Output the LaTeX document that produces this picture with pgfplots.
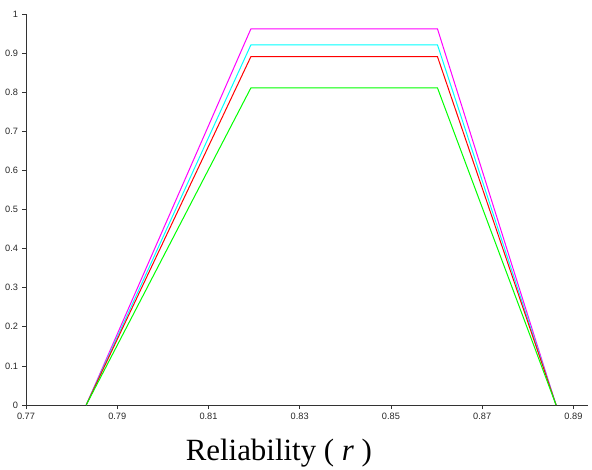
\documentclass[border=0pt]{standalone}
\usepackage{fontspec}
\setmainfont{Liberation Serif}
\newfontfamily\ticksans{Liberation Sans}
\usepackage{pgfplots}
\pgfplotsset{compat=1.18}
\definecolor{cMag}{RGB}{255,0,255}
\definecolor{cCyan}{RGB}{0,255,255}
\definecolor{cRed}{RGB}{255,0,0}
\definecolor{cGreen}{RGB}{0,255,0}

\begin{document}
\begin{tikzpicture}
\useasboundingbox (-26bp,-65bp) rectangle (566bp,405bp);
\begin{axis}[
  scale only axis,
  width=562bp,
  height=391bp,
  at={(0,0)},
  anchor=south west,
  xmin=0.77, xmax=0.8932,
  ymin=0, ymax=1,
  axis lines*=left,
  axis line style={draw=black!80, line width=0.8bp},
  xtick={0.77,0.79,0.81,0.83,0.85,0.87,0.89},
  xticklabels={0.77,0.79,0.81,0.83,0.85,0.87,0.89},
  ytick={0,0.1,0.2,0.3,0.4,0.5,0.6,0.7,0.8,0.9,1},
  yticklabels={0,0.1,0.2,0.3,0.4,0.5,0.6,0.7,0.8,0.9,1},
  tick align=outside,
  major tick length=4bp,
  tick style={draw=black!80, line width=0.8bp},
  tick label style={font=\ticksans\fontsize{9.25}{10}\selectfont, text=black!85},
  xticklabel style={yshift=-0.5bp},
  yticklabel style={xshift=-0.5bp},
  xlabel={Reliability ( \textit{r} )},
  xlabel style={at={(axis description cs:0.45,0)}, anchor=center, yshift=-48bp,
    font=\fontsize{31}{35}\selectfont},
  clip=false,
]
\addplot[cMag, line width=1bp] coordinates {(0.7832,0) (0.8193,0.962) (0.8602,0.962) (0.8862,0)};
\addplot[cCyan, line width=1bp] coordinates {(0.7832,0) (0.8193,0.921) (0.8602,0.921) (0.8862,0)};
\addplot[cRed, line width=1bp] coordinates {(0.7832,0) (0.8193,0.891) (0.8602,0.891) (0.8862,0)};
\addplot[cGreen, line width=1bp] coordinates {(0.7832,0) (0.8193,0.811) (0.8602,0.811) (0.8862,0)};
\end{axis}
\end{tikzpicture}
\end{document}
